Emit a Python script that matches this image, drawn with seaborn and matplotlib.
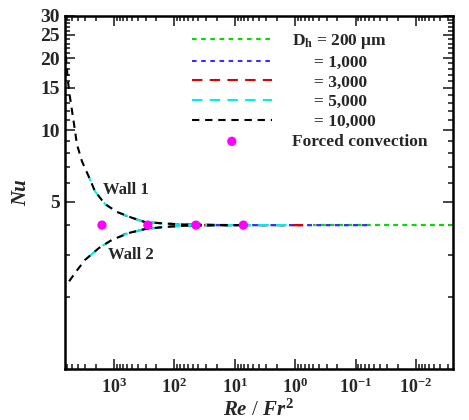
import numpy as np
import pandas as pd
import matplotlib
matplotlib.use("Agg")
import matplotlib.pyplot as plt
import seaborn as sns

# ---- data ----
# Re/Fr^2 and Nu along Wall 1 (upper branch) and Wall 2 (lower branch)
x1_10000 = [6470, 6240, 5780, 5350, 4590, 4100, 3390, 2590, 2070, 1410, 890, 500, 307, 160, 83, 30, 8]
w1_10000 = [22.2, 20.2, 16.0, 13.7, 10.6, 8.7, 7.4, 6.35, 5.55, 4.9, 4.54, 4.29, 4.12, 4.07, 4.03, 4.01, 4.0]
x2_10000 = [6470, 4430, 3020, 1770, 1080, 565, 307, 160, 83, 30, 8]
w2_10000 = [2.2, 2.52, 2.86, 3.21, 3.47, 3.71, 3.85, 3.92, 3.97, 3.99, 4.0]

x1_5000 = [2590, 2070, 1410, 890, 500, 307, 160, 83, 30, 8, 1.4]
w1_5000 = [6.35, 5.55, 4.9, 4.54, 4.29, 4.12, 4.07, 4.03, 4.01, 4.0, 4.0]
x2_5000 = [3020, 1770, 1080, 565, 307, 160, 83, 30, 8, 1.4]
w2_5000 = [2.86, 3.21, 3.47, 3.71, 3.85, 3.92, 3.97, 3.99, 4.0, 4.0]

x1_3000 = [700, 500, 307, 160, 83, 30, 8, 0.74]
w1_3000 = [4.42, 4.29, 4.12, 4.07, 4.03, 4.01, 4.0, 4.0]
x2_3000 = [700, 565, 307, 160, 83, 30, 8, 0.74]
w2_3000 = [3.65, 3.71, 3.85, 3.92, 3.97, 3.99, 4.0, 4.0]

x1_1000 = [60, 30, 10, 1, 0.065]
w1_1000 = [4.03, 4.01, 4.0, 4.0, 4.0]
x2_1000 = [60, 30, 10, 1, 0.065]
w2_1000 = [3.97, 3.99, 4.0, 4.0, 4.0]

x1_200 = [0.5, 0.1, 0.01, 0.0024]
w1_200 = [4.0, 4.0, 4.0, 4.0]
x2_200 = [0.5, 0.1, 0.01, 0.0024]
w2_200 = [4.0, 4.0, 4.0, 4.0]

fc_x = [1580, 275, 44, 7.2]
fc_y = [4.0, 4.0, 4.0, 4.0]

series_labels = [r"D$_{\mathbf{h}}$ = 200 $\mathbf{\mu}$m", "     = 1,000", "     = 3,000",
                 "     = 5,000", "     = 10,000"]
x_ticks = [1e3, 1e2, 1e1, 1e0, 1e-1, 1e-2]
x_tick_labels = [r"$\mathbf{10^{3}}$", r"$\mathbf{10^{2}}$", r"$\mathbf{10^{1}}$",
                 r"$\mathbf{10^{0}}$", r"$\mathbf{10^{-1}}$", r"$\mathbf{10^{-2}}$"]
y_ticks = [5, 10, 15, 20, 25, 30]
y_tick_labels = ["5", "10", "15", "20", "25", "30"]

# ---- style ----
sns.set_style("ticks")
plt.rcParams['font.family'] = ['Liberation Serif', 'DejaVu Serif']
plt.rcParams['font.weight'] = 'bold'
plt.rcParams['mathtext.fontset'] = 'custom'
plt.rcParams['mathtext.rm'] = 'Liberation Serif:bold'
plt.rcParams['mathtext.bf'] = 'Liberation Serif:bold'
plt.rcParams['mathtext.it'] = 'Liberation Serif:bold:italic'

fig = plt.figure(figsize=(4.69, 4.20), dpi=100)
ax = fig.add_axes([65/469, 1-369/420, (453-65)/469, (369-16)/420])

specs = [
    (x1_200, w1_200, x2_200, w2_200, "#00dd00", (0, (2.2, 2.2))),
    (x1_1000, w1_1000, x2_1000, w2_1000, "#3333ff", (0, (2.2, 2.2))),
    (x1_3000, w1_3000, x2_3000, w2_3000, "#dd0000", (0, (5, 3.5))),
    (x1_5000, w1_5000, x2_5000, w2_5000, "#00eeee", (0, (5, 3.5))),
    (x1_10000, w1_10000, x2_10000, w2_10000, "black", (0, (3.5, 2.8))),
]

handles = []
for (xa, ya, xb, yb, col, ls), lab in zip(specs, series_labels):
    df1 = pd.DataFrame({"x": xa, "y": ya})
    df2 = pd.DataFrame({"x": xb, "y": yb})
    n0 = len(ax.lines)
    sns.lineplot(data=df1, x="x", y="y", color=col, linestyle=ls, lw=1.5, ax=ax, sort=True)
    handles.append(ax.lines[n0])
    sns.lineplot(data=df2, x="x", y="y", color=col, linestyle=ls, lw=1.5, ax=ax, sort=True)

fc_df = pd.DataFrame({"x": fc_x, "y": fc_y})
sns.scatterplot(data=fc_df, x="x", y="y", color="#ff00ff", s=45, edgecolor="none",
                ax=ax, zorder=5, label="Forced convection")
fc_handle = ax.collections[-1]

ax.set_xscale("log")
ax.set_yscale("log")
ax.set_xlim(6470, 0.00244)
ax.set_ylim(1, 30)

ax.set_xticks(x_ticks)
ax.set_xticklabels(x_tick_labels)
ax.xaxis.set_minor_locator(matplotlib.ticker.LogLocator(base=10, subs=np.arange(2, 10)))
ax.xaxis.set_minor_formatter(matplotlib.ticker.NullFormatter())
ax.set_yticks(y_ticks)
ax.set_yticklabels(y_tick_labels)
ax.yaxis.set_minor_locator(matplotlib.ticker.FixedLocator(
    [2, 3, 4, 6, 7, 8, 9, 11, 12, 13, 14, 16, 17, 18, 19, 21, 22, 23, 24, 26, 27, 28, 29]))
ax.yaxis.set_minor_formatter(matplotlib.ticker.NullFormatter())

ax.tick_params(which="both", direction="in", top=True, right=True, width=1.2)
ax.tick_params(which="major", length=7, pad=6)
ax.tick_params(axis="x", which="major", labelsize=13)
ax.tick_params(axis="y", which="major", labelsize=14, pad=4)
ax.tick_params(which="minor", length=3.5)
for sp in ax.spines.values():
    sp.set_linewidth(1.8)
    sp.set_color("black")
for t in ax.get_xticklabels() + ax.get_yticklabels():
    t.set_fontweight("bold")

ax.set_xlabel(r"$\mathit{Re}$ / $\mathit{Fr}^{\mathit{2}}$", fontsize=15, labelpad=2)
ax.set_ylabel("Nu", fontsize=15, style="italic", fontweight="bold", labelpad=6)

ax.text(1500, 5.6, "Wall 1", fontsize=12, fontweight="bold", va="center", ha="left")
ax.text(1250, 3.0, "Wall 2", fontsize=12, fontweight="bold", va="center", ha="left")

leg = ax.legend(handles=handles + [fc_handle],
                labels=series_labels + ["Forced convection"],
                loc="upper left", bbox_to_anchor=(0.327, 0.955), frameon=False,
                fontsize=12.5, handlelength=4.6, handletextpad=1.15, labelspacing=0.21,
                borderaxespad=0, borderpad=0)
for t in leg.get_texts():
    t.set_fontweight("bold")

fig.savefig("out.png", dpi=100)
